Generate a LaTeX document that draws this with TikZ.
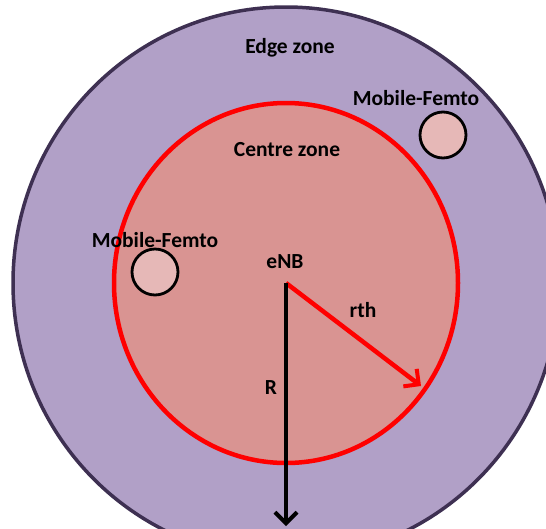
\documentclass[tikz,border=0pt]{standalone}
\usepackage{fontspec}
\setmainfont{Carlito}
\usetikzlibrary{positioning,arrows.meta}
\definecolor{edgefill}{RGB}{177,160,199}
\definecolor{edgeline}{RGB}{62,48,82}
\definecolor{centrefill}{RGB}{217,148,146}
\definecolor{femtofill}{RGB}{230,184,183}

\begin{document}
\begin{tikzpicture}[x=1pt, y=-1pt, every node/.style={font=\bfseries\fontsize{21.5}{24}\selectfont},
  femto/.style={circle, draw=black, line width=2.8pt, fill=femtofill, minimum size=46pt, inner sep=0pt},
  lbl/.style={inner sep=1pt}]
  \useasboundingbox (0,0) rectangle (546,528);
  \clip (0,0) rectangle (546,528);
  % Zones around the eNB
  \coordinate (enb) at (286,283);
  \filldraw[fill=edgefill, draw=edgeline, line width=3.5pt] (enb) ellipse [x radius=273, y radius=276];
  \filldraw[fill=centrefill, draw=red, line width=4.5pt] (enb) ellipse [x radius=172, y radius=180];
  % Mobile femto cells
  \node[femto] (femtoA) at (155,272) {};
  \node[femto] (femtoB) at (443,135) {};
  \node[lbl] (femtoAlbl) at (155,240) {Mobile-Femto};
  \node[lbl] (femtoBlbl) at (416,98) {Mobile-Femto};
  % Zone labels
  \node[lbl] (edgelbl) at (290,48) {Edge zone};
  \node[lbl] (centrelbl) at (287,150) {Centre zone};
  \node[lbl] (enblbl) at (285,262) {eNB};
  % Radii
  \coordinate (rthend) at (421,386);
  \coordinate (Rend) at (286,526);
  \draw[red, line width=4.5pt, -{Straight Barb[length=11pt, width=22pt, line width=4pt]}] (enb) -- (rthend);
  \draw[black, line width=4.5pt, -{Straight Barb[length=11pt, width=22pt, line width=4pt]}] (enb) -- (Rend);
  \node[lbl] (rthlbl) at (363,310) {rth};
  \node[lbl] (Rlbl) at (271,388) {R};
\end{tikzpicture}
\end{document}
